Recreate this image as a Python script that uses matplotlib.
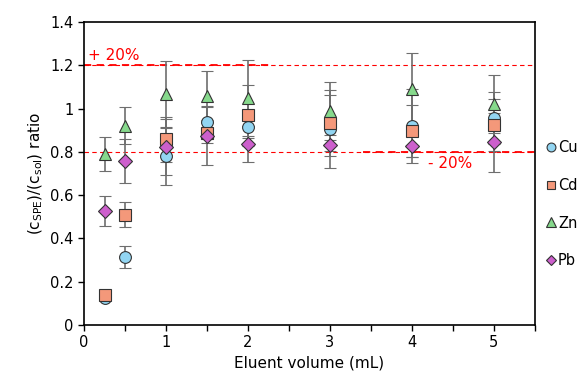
import numpy as np
import matplotlib.pyplot as plt
from matplotlib.ticker import MultipleLocator, FuncFormatter

volume = [0.25, 0.5, 1, 1.5, 2, 3, 4, 5]

cu = [0.125, 0.313, 0.782, 0.94, 0.913, 0.904, 0.92, 0.955]
cu_err = [0.01, 0.05, 0.135, 0.07, 0.05, 0.18, 0.17, 0.12]
cd = [0.139, 0.51, 0.858, 0.889, 0.969, 0.935, 0.896, 0.924]
cd_err = [0.01, 0.057, 0.105, 0.05, 0.14, 0.13, 0.12, 0.12]
zn = [0.79, 0.92, 1.067, 1.06, 1.05, 0.989, 1.089, 1.02]
zn_err = [0.08, 0.085, 0.155, 0.115, 0.175, 0.135, 0.17, 0.135]
pb = [0.525, 0.758, 0.823, 0.873, 0.836, 0.83, 0.829, 0.844]
pb_err = [0.07, 0.1, 0.13, 0.135, 0.085, 0.05, 0.055, 0.135]

series = [
    ("Cu", cu, cu_err, "o", "#92D5F2", 8.5),
    ("Cd", cd, cd_err, "s", "#F4987A", 8),
    ("Zn", zn, zn_err, "^", "#86D98C", 9),
    ("Pb", pb, pb_err, "D", "#CC5FCC", 7),
]

fig = plt.figure(figsize=(5.8, 3.8), dpi=100)
ax = fig.add_axes([0.145, 0.145, 0.777, 0.797])

# +/- 20 % limits
ax.axhline(1.2, color="red", ls=(0, (4, 3)), lw=0.8, zorder=1)
ax.axhline(0.8, color="red", ls=(0, (4, 3)), lw=0.8, zorder=1)
ax.plot([0, 2.3], [1.2, 1.2], color="red", ls=(0, (4, 3)), lw=1.3, zorder=1)
ax.plot([3.4, 5.5], [0.8, 0.8], color="red", ls=(0, (4, 3)), lw=1.3, zorder=1)
ax.text(0.05, 1.225, "+ 20%", color="red", fontsize=11)
ax.text(4.2, 0.725, "- 20%", color="red", fontsize=11)

for name, y, err, mk, col, ms in series:
    ax.errorbar(volume, y, yerr=err, fmt=mk, ms=ms, mfc=col, mec="#333333",
                mew=0.8, ecolor="#6E6E6E", elinewidth=1.2, capsize=4,
                capthick=1.2, label=name, zorder=3)

ax.set_xlim(0, 5.5)
ax.set_ylim(0, 1.4)
ax.xaxis.set_major_locator(MultipleLocator(0.5))
ax.xaxis.set_major_formatter(FuncFormatter(lambda v, p: f"{v:g}" if v % 1 == 0 and v <= 5 else ""))
ax.yaxis.set_major_locator(MultipleLocator(0.2))
ax.yaxis.set_major_formatter(FuncFormatter(lambda v, p: f"{v:g}"))
ax.tick_params(labelsize=10.5, length=4, width=1)
for s in ax.spines.values():
    s.set_linewidth(1.2)

ax.set_xlabel("Eluent volume (mL)", fontsize=11)
ax.set_ylabel(r"(c$_{\rm SPE}$)/(c$_{\rm sol}$) ratio", fontsize=11)

handles, labels = ax.get_legend_handles_labels()
handles = [h[0] for h in handles]
ax.legend(handles, labels, loc="upper left", bbox_to_anchor=(1.0, 0.643),
          frameon=False, fontsize=10.5, labelspacing=1.55, handletextpad=0.1,
          handlelength=0.8, borderaxespad=0.3, markerscale=0.75)

fig.savefig("out.png", dpi=100)
